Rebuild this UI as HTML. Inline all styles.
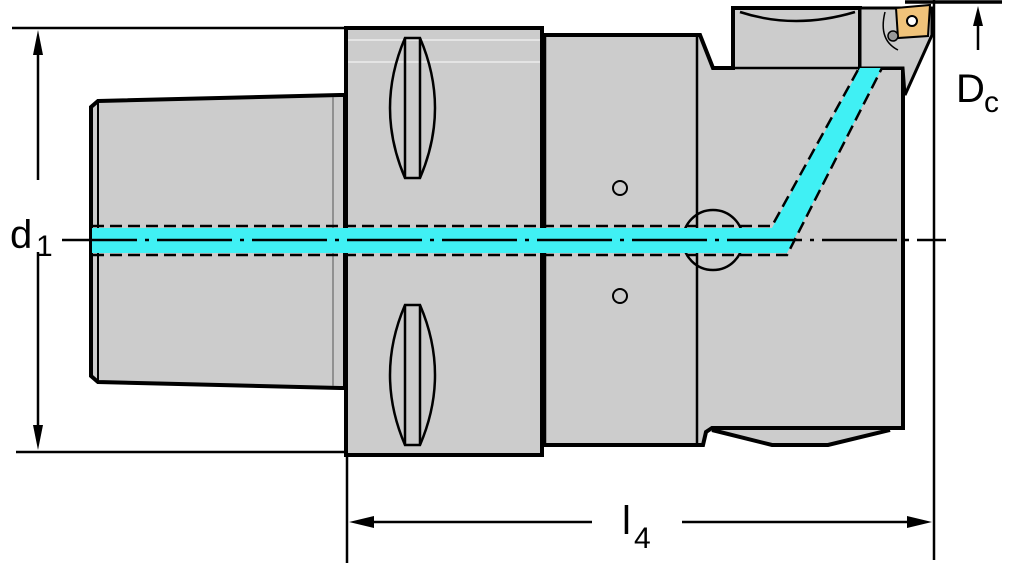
<!DOCTYPE html>
<html><head><style>body{margin:0;background:#fff}svg{display:block}</style></head>
<body>
<svg width="1024" height="563" viewBox="0 0 1024 563" xmlns="http://www.w3.org/2000/svg" font-family="Liberation Sans, DejaVu Sans, sans-serif">
<g stroke="#000" stroke-width="2.5" fill="none">
<line x1="12" y1="28" x2="346" y2="28"/>
<line x1="16" y1="452" x2="346" y2="452"/>
<line x1="38" y1="45" x2="38" y2="180"/>
<line x1="38" y1="252" x2="38" y2="435"/>
<line x1="347" y1="455" x2="347" y2="563"/>
<line x1="934" y1="0" x2="934" y2="560"/>
<line x1="362" y1="522" x2="592" y2="522"/>
<line x1="682" y1="522" x2="918" y2="522"/>
<line x1="905" y1="2" x2="1002" y2="2" stroke-width="3.5"/>
<line x1="978" y1="22" x2="978" y2="50"/>
</g>
<g fill="#000">
<polygon points="38,30 33,55 43,55"/>
<polygon points="38,450 33,425 43,425"/>
<polygon points="349,522 374,516 374,528"/>
<polygon points="932,522 907,516 907,528"/>
<polygon points="978,6 973,26 983,26"/>
</g>
<path d="M98,101 L340,95 L345,95 L345,388 L340,388 L98,382 L91,376 L91,107 Z" fill="#cccccc" stroke="#000" stroke-width="4"/>
<line x1="98" y1="103" x2="98" y2="380" stroke="#000" stroke-width="2"/>
<line x1="333" y1="97" x2="333" y2="386" stroke="#555" stroke-width="1"/>
<rect x="346" y="28" width="196" height="427" fill="#cccccc" stroke="#000" stroke-width="4"/>
<line x1="348" y1="40" x2="540" y2="40" stroke="#e4e4e4" stroke-width="2"/>
<line x1="348" y1="62" x2="540" y2="62" stroke="#e4e4e4" stroke-width="2"/>
<g fill="none" stroke="#000" stroke-width="2.5">
<path d="M405,38 Q375,108 405,178 L420,178 Q450,108 420,38 Z"/>
<line x1="405" y1="38" x2="405" y2="178"/><line x1="420" y1="38" x2="420" y2="178"/>
<path d="M405,305 Q375,375 405,445 L420,445 Q450,375 420,305 Z"/>
<line x1="405" y1="305" x2="405" y2="445"/><line x1="420" y1="305" x2="420" y2="445"/>
</g>
<path d="M542,35 L700,35 L713,68 L733,68 L733,8 L860,8 L860,68 L903,68 L903,428 L712,428 L706,432 L703,445 L542,445 Z" fill="#cccccc" stroke="#000" stroke-width="4"/>
<line x1="545" y1="35" x2="545" y2="445" stroke="#000" stroke-width="2.5"/>
<line x1="697" y1="36" x2="697" y2="445" stroke="#000" stroke-width="2.5"/>
<line x1="735" y1="68" x2="903" y2="68" stroke="#000" stroke-width="2.5"/>
<path d="M740,12 Q795,30 855,12" fill="none" stroke="#000" stroke-width="2.5"/>
<path d="M860,8 L932,8 L932,35 L905,95 L903,68 L860,68 Z" fill="#cccccc" stroke="#000" stroke-width="3"/>
<path d="M885,12 Q878,40 898,50" fill="none" stroke="#000" stroke-width="1.5"/>
<polygon points="896,8 930,5 928,36 898,38" fill="#f0c37a" stroke="#000" stroke-width="2"/>
<circle cx="912" cy="21" r="5" fill="#fff" stroke="#000" stroke-width="2"/>
<circle cx="893" cy="36" r="5" fill="#999" stroke="#000" stroke-width="1.5"/>
<path d="M712,430 L772,445 L828,445 L890,430" fill="#cccccc" stroke="#000" stroke-width="4"/>
<circle cx="620" cy="188" r="7" fill="none" stroke="#000" stroke-width="2"/>
<circle cx="620" cy="296" r="7" fill="none" stroke="#000" stroke-width="2"/>
<circle cx="713" cy="240" r="30" fill="none" stroke="#000" stroke-width="2.5"/>
<path d="M92,228 L772,228 L860,68 L882,68 L787,253 L92,253 Z" fill="#40f0f4"/>
<g fill="none" stroke="#000" stroke-width="2.5" stroke-dasharray="12,6">
<path d="M92,226 L772,226 L859,68"/>
<path d="M92,255 L787,255 L882,68"/>
</g>
<line x1="62" y1="240" x2="946" y2="240" stroke="#000" stroke-width="2.5" stroke-dasharray="75,8,4,8"/>
<text x="10" y="248" font-size="40" fill="#000">d</text>
<text x="36" y="256" font-size="30" fill="#000">1</text>
<text x="622" y="534" font-size="40" fill="#000">l</text>
<text x="634" y="548" font-size="30" fill="#000">4</text>
<text x="956" y="102" font-size="40" fill="#000">D</text>
<text x="984" y="112" font-size="30" fill="#000">c</text>
</svg>
</body></html>
